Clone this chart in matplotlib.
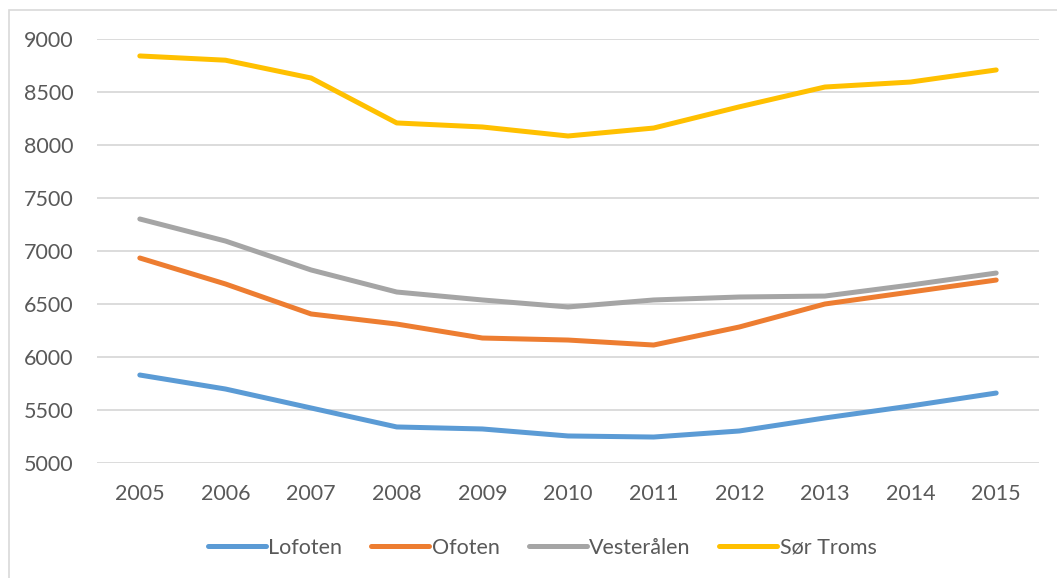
import matplotlib
matplotlib.use("Agg")
import matplotlib.pyplot as plt
from matplotlib.patches import Rectangle

years = ["2005", "2006", "2007", "2008", "2009", "2010", "2011", "2012", "2013", "2014", "2015"]
lofoten = [5830, 5698, 5519, 5340, 5321, 5255, 5245, 5302, 5425, 5538, 5660]
ofoten = [6934, 6689, 6406, 6311, 6179, 6160, 6113, 6283, 6500, 6613, 6726]
vesteralen = [7302, 7094, 6821, 6613, 6538, 6472, 6538, 6566, 6575, 6679, 6792]
sor_troms = [8840, 8800, 8632, 8208, 8170, 8085, 8160, 8360, 8547, 8594, 8708]
series_names = ["Lofoten", "Ofoten", "Vesterålen", "Sør Troms"]
yticks = [5000, 5500, 6000, 6500, 7000, 7500, 8000, 8500, 9000]

colors = ["#5B9BD5", "#ED7D31", "#A5A5A5", "#FFC000"]
plt.rcParams['font.family'] = ['Lato', 'DejaVu Sans']

fig = plt.figure(figsize=(10.57, 5.78), dpi=100)
ax = fig.add_axes([97/1057, 1-463/578, (1039-97)/1057, (463-39)/578])

x = list(range(len(years)))
for vals, name, c in zip([lofoten, ofoten, vesteralen, sor_troms], series_names, colors):
    ax.plot(x, vals, color=c, lw=3.6, label=name, solid_capstyle='round', solid_joinstyle='round', zorder=3)

ax.set_xlim(-0.5, len(years) - 0.5)
ax.set_ylim(5000, 9000)
ax.set_yticks(yticks)
ax.set_yticklabels([str(v) for v in yticks])
ax.set_xticks(x)
ax.set_xticklabels(years)
ax.grid(axis='y', color='#d9d9d9', lw=1.3, zorder=0)
ax.tick_params(axis='both', length=0, labelsize=15.5, labelcolor='#595959')
ax.tick_params(axis='y', pad=17)
ax.tick_params(axis='x', pad=15)
for s in ax.spines.values():
    s.set_visible(False)

fig.legend(loc='center', bbox_to_anchor=(0.513, 1-548/578), ncol=4, frameon=False,
           fontsize=15.5, handlelength=2.7, handletextpad=0.1, columnspacing=1.35,
           labelcolor='#595959')

fig.patches.append(Rectangle((9/1057, -0.1), 1.2, 1-10/578+0.1, transform=fig.transFigure,
                             fill=False, edgecolor='#d9d9d9', lw=1.2, zorder=0))

fig.savefig("out.png", dpi=100)
